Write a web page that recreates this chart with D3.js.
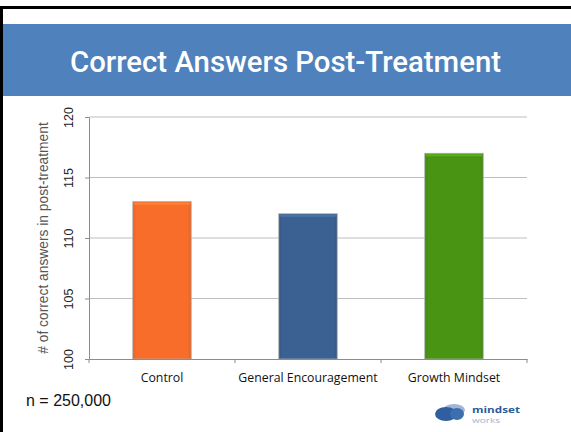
<!DOCTYPE html>
<html>
<head>
<meta charset="utf-8">
<script src="https://cdn.jsdelivr.net/npm/d3@7"></script>
<style>
  body { margin: 0; background: #fff; }
  svg { display: block; }
</style>
</head>
<body>
<svg></svg>
<script>
const categories = ['Control', 'General Encouragement', 'Growth Mindset'];
const values = [113, 112, 117];
const colors = ['#f96d2a', '#3a6191', '#4a9414'];
const yTicks = [100, 105, 110, 115, 120];

const W = 571, H = 432;
const svg = d3.select('svg').attr('width', W).attr('height', H);

// slide frame
svg.append('rect').attr('x', 0).attr('y', 6).attr('width', W).attr('height', 3).attr('fill', '#000');
svg.append('rect').attr('x', 0).attr('y', 6).attr('width', 3).attr('height', H).attr('fill', '#000');

// title band
svg.append('rect').attr('x', 3).attr('y', 24).attr('width', W - 3).attr('height', 72).attr('fill', '#4f81bd');
svg.append('text')
  .attr('x', 70).attr('y', 72)
  .attr('fill', '#fff')
  .attr('textLength', 431).attr('lengthAdjust', 'spacingAndGlyphs')
  .style('font-family', 'Roboto, "Liberation Sans", sans-serif')
  .style('font-size', '29.5px')
  .style('font-weight', 500)
  .text('Correct Answers Post-Treatment');

const x = d3.scaleBand().domain(categories).range([89, 527]).paddingInner(0.6).paddingOuter(0.3);
const y = d3.scaleLinear().domain([100, 120]).range([359, 117]);

// gridlines
svg.append('g')
  .selectAll('line')
  .data(yTicks.slice(1))
  .join('line')
  .attr('x1', 89).attr('x2', 527)
  .attr('y1', d => y(d)).attr('y2', d => y(d))
  .attr('stroke', '#bdbdbd').attr('stroke-width', 1);

// bars
const defs = svg.append('defs');
colors.forEach((c, i) => {
  const g = defs.append('linearGradient').attr('id', 'g' + i).attr('x1', 0).attr('x2', 1).attr('y1', 0).attr('y2', 0);
  g.append('stop').attr('offset', '0').attr('stop-color', d3.color(c).darker(0.3));
  g.append('stop').attr('offset', '0.06').attr('stop-color', c);
  g.append('stop').attr('offset', '0.94').attr('stop-color', c);
  g.append('stop').attr('offset', '1').attr('stop-color', d3.color(c).darker(0.3));
});

svg.append('g')
  .selectAll('rect')
  .data(categories)
  .join('rect')
  .attr('x', d => x(d))
  .attr('y', (d, i) => y(values[i]))
  .attr('width', x.bandwidth())
  .attr('height', (d, i) => y(100) - y(values[i]))
  .attr('fill', (d, i) => `url(#g${i})`)
  .attr('stroke', '#a9a9a9').attr('stroke-width', 0.8);

svg.append('g')
  .selectAll('rect')
  .data(categories)
  .join('rect')
  .attr('x', d => x(d) + 1)
  .attr('y', (d, i) => y(values[i]) + 1)
  .attr('width', x.bandwidth() - 2)
  .attr('height', 2)
  .attr('fill', (d, i) => d3.color(colors[i]).brighter(0.5));

// y axis
const yAxis = svg.append('g')
  .attr('transform', 'translate(89,0)')
  .call(d3.axisLeft(y).tickValues(yTicks).tickSize(4).tickSizeOuter(0).tickFormat(d3.format('d')));
yAxis.select('.domain').attr('stroke', '#8c8c8c');
yAxis.selectAll('.tick line').attr('stroke', '#8c8c8c');
yAxis.selectAll('.tick text')
  .attr('transform', 'rotate(-90, -20, 0)')
  .attr('x', -20).attr('dy', '0.35em').attr('y', 0)
  .attr('text-anchor', 'middle')
  .attr('fill', '#222')
  .style('font-family', '"Liberation Sans", Arial, sans-serif')
  .style('font-size', '12.5px');

// x axis
const xAxis = svg.append('g')
  .attr('transform', 'translate(0,359)')
  .call(d3.axisBottom(x).tickSize(0).tickPadding(14));
xAxis.select('.domain').attr('stroke', '#8c8c8c');
xAxis.selectAll('.tick text')
  .attr('fill', '#111')
  .style('font-family', '"Open Sans", sans-serif')
  .style('font-size', '12.3px');
xAxis.append('g')
  .selectAll('line')
  .data([89, 235, 381, 527])
  .join('line')
  .attr('x1', d => d).attr('x2', d => d)
  .attr('y1', 0).attr('y2', 4)
  .attr('stroke', '#8c8c8c');

// y axis title
svg.append('text')
  .attr('transform', 'translate(48,238) rotate(-90)')
  .attr('text-anchor', 'middle')
  .attr('fill', '#555')
  .style('font-family', '"Liberation Sans", Arial, sans-serif')
  .style('font-size', '13.8px')
  .text('# of correct answers in post-treatment');

// sample size
svg.append('text')
  .attr('x', 26).attr('y', 406)
  .attr('fill', '#111')
  .style('font-family', '"Liberation Sans", Arial, sans-serif')
  .style('font-size', '16px')
  .text('n = 250,000');

// logo
const logo = svg.append('g').attr('transform', 'translate(435,404)');
logo.append('ellipse').attr('cx', 19).attr('cy', 6).attr('rx', 11).attr('ry', 6).attr('fill', '#9fb7d6');
logo.append('ellipse').attr('cx', 11).attr('cy', 10).attr('rx', 11).attr('ry', 7).attr('fill', '#2f5f9e');
logo.append('ellipse').attr('cx', 22).attr('cy', 10).attr('rx', 7).attr('ry', 6).attr('fill', '#3c6fae');
logo.append('text').attr('x', 37).attr('y', 8.5)
  .attr('fill', '#2b5c9a')
  .attr('textLength', 48).attr('lengthAdjust', 'spacingAndGlyphs')
  .style('font-family', '"Open Sans", sans-serif').style('font-size', '9.5px').style('font-weight', 'bold')
  .text('mindset');
logo.append('text').attr('x', 37).attr('y', 18.5)
  .attr('fill', '#a0b3cc')
  .attr('textLength', 28).attr('lengthAdjust', 'spacingAndGlyphs')
  .style('font-family', '"Open Sans", sans-serif').style('font-size', '7px')
  .text('works');
</script>
</body>
</html>
